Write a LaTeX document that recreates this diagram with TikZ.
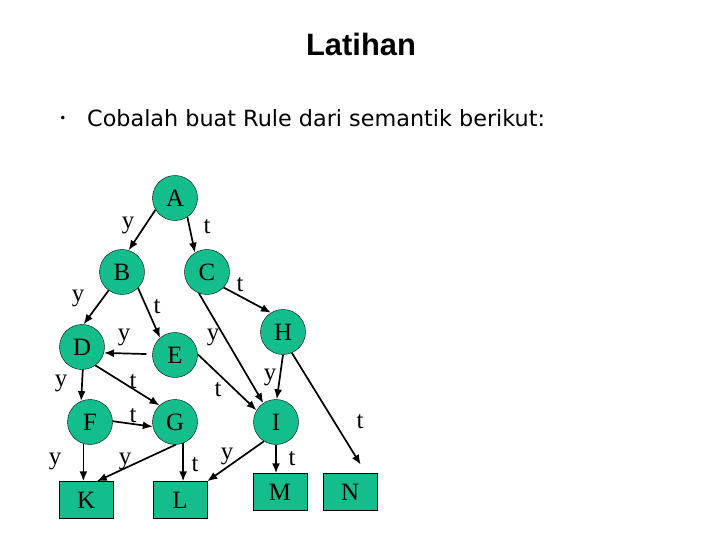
\documentclass[tikz,border=0pt]{standalone}
\usepackage{fontspec}
\setmainfont{Liberation Serif}
\newfontfamily\judulfont{Liberation Sans}
\newfontfamily\teksfont{DejaVu Sans}
\usetikzlibrary{positioning, arrows.meta}
\definecolor{tosca}{RGB}{20,190,140}
\newcommand{\hurufsimpul}{\fontsize{25}{28}\selectfont}

\begin{document}
\begin{tikzpicture}[x=1bp, y=-1bp, every node/.style={font=\hurufsimpul},
	bulat/.style={draw, circle, fill=tosca, minimum size=45bp, inner sep=0pt},
	kotak/.style={draw, rectangle, fill=tosca, minimum width=54bp, minimum height=37bp, inner sep=0pt},
	panah/.style={->, >={Latex[length=10bp, width=8bp]}, line width=1.7bp}]

\useasboundingbox (0,0) rectangle (720,540);

	\node[font=\judulfont\bfseries\fontsize{31}{34}\selectfont] (judul) at(361,44) {Latihan};
	\node[font=\teksfont\fontsize{12}{14}\selectfont] (titik) at(63,119) {•};
	\node[font=\teksfont\fontsize{22.4}{26}\selectfont, anchor=west, inner sep=0pt] (soal) at(87,118) {Cobalah buat Rule dari semantik berikut:};

	\node[bulat] (A) at(175,198) {A};
	\node[bulat] (B) at(122,272) {B};
	\node[bulat] (C) at(207,272) {C};
	\node[bulat] (H) at(283,332) {H};
	\node[bulat] (D) at(82,347) {D};
	\node[bulat] (E) at(175,355) {E};
	\node[bulat] (F) at(90,422) {F};
	\node[bulat] (G) at(175,422) {G};
	\node[bulat] (I) at(276,422) {I};
	\node[kotak] (K) at(86,500) {K};
	\node[kotak] (L) at(180,500) {L};
	\node[kotak] (M) at(280,492) {M};
	\node[kotak] (N) at(350,492) {N};

\draw[panah] (A.211) to (B.73);
\draw[panah] (A.303) to (C.122);
\draw[panah] (B.234) to (D.86);
\draw[panah] (B.315) to (E.131);
\draw[panah] (C.317) to (H.122);
\draw[panah] (C.249) to (I.124);
\draw[panah] (H.270) to (I.88);
\draw[panah, shorten >=10bp] (H.293) to ([xshift=16bp]N.north);
\draw[panah, shorten <=6bp] (E.178) to (D.345);
\draw[panah] (D.272) to (F.113);
\draw[panah] (D.306) to (G.133);
\draw[panah] (F.2) to (G.192);
\draw[panah] (E.2) to (I.149);
\draw[panah] (F.253) to (F.253 |- K.north);
\draw[panah] (G.272) to (K.60);
\draw[panah] (G.291) to (G.291 |- L.north);
\draw[panah] (I.238) to (L.north east);
\draw[panah] (I.south) to (I.south |- M.north);

\node (yAB) at(128,225) {y};
\node (tAC) at(207,227) {t};
\node (yBD) at(78,298) {y};
\node (tBE) at(157,307) {t};
\node (tCH) at(240,285) {t};
\node (yCI) at(213,337) {y};
\node (yED) at(124,337) {y};
\node (yDF) at(61,383) {y};
\node (tDG) at(133,382) {t};
\node (tFG) at(133,416) {t};
\node (tEI) at(218,390) {t};
\node (yHI) at(270,377) {y};
\node (tHN) at(360,422) {t};
\node (yFK) at(55,461) {y};
\node (yGK) at(125,461) {y};
\node (tGL) at(195,465) {t};
\node (yIL) at(227,456) {y};
\node (tIM) at(292,459) {t};
\end{tikzpicture}
\end{document}
